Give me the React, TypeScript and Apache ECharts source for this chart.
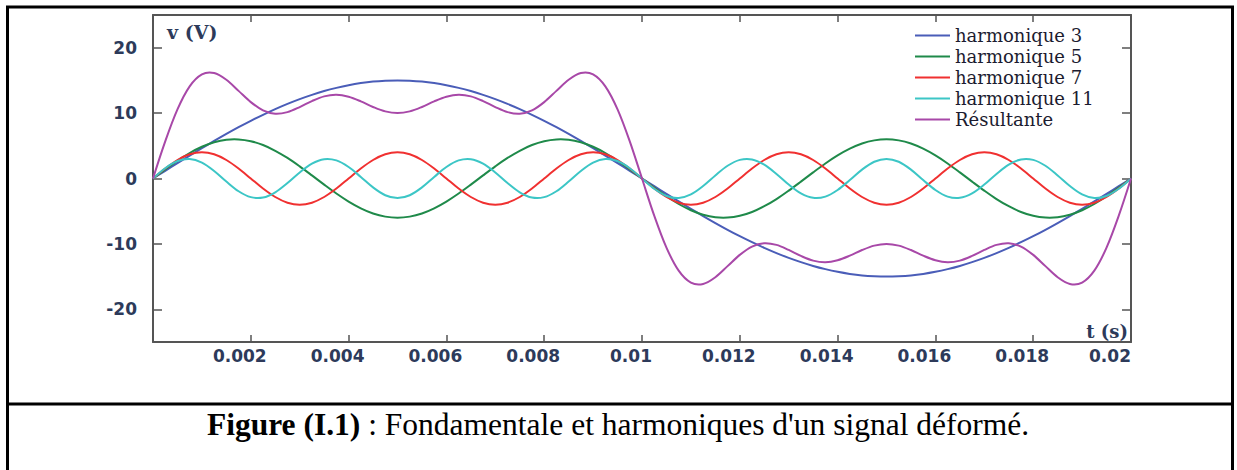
import React, { useEffect, useRef } from "react";
import * as echarts from "echarts";

const times = [
  0, 0.00025, 0.0005, 0.00075, 0.001, 0.00125, 0.0015, 0.00175, 0.002, 0.00225,
  0.0025, 0.00275, 0.003, 0.00325, 0.0035, 0.00375, 0.004, 0.00425, 0.0045, 0.00475,
  0.005, 0.00525, 0.0055, 0.00575, 0.006, 0.00625, 0.0065, 0.00675, 0.007, 0.00725,
  0.0075, 0.00775, 0.008, 0.00825, 0.0085, 0.00875, 0.009, 0.00925, 0.0095, 0.00975,
  0.01, 0.01025, 0.0105, 0.01075, 0.011, 0.01125, 0.0115, 0.01175, 0.012, 0.01225,
  0.0125, 0.01275, 0.013, 0.01325, 0.0135, 0.01375, 0.014, 0.01425, 0.0145, 0.01475,
  0.015, 0.01525, 0.0155, 0.01575, 0.016, 0.01625, 0.0165, 0.01675, 0.017, 0.01725,
  0.0175, 0.01775, 0.018, 0.01825, 0.0185, 0.01875, 0.019, 0.01925, 0.0195, 0.01975,
  0.02,
];

const harm3 = [
  0, 1.18, 2.35, 3.5, 4.64, 5.74, 6.81, 7.84, 8.82, 9.74, 10.61, 11.41, 12.14, 12.79, 13.37, 13.86, 14.27, 14.59, 14.82, 14.95, 15.0,
  14.95, 14.82, 14.59, 14.27, 13.86, 13.37, 12.79, 12.14, 11.41, 10.61, 9.74, 8.82, 7.84, 6.81, 5.74, 4.64, 3.5, 2.35, 1.18, 0,
  -1.18, -2.35, -3.5, -4.64, -5.74, -6.81, -7.84, -8.82, -9.74, -10.61, -11.41, -12.14, -12.79, -13.37, -13.86, -14.27, -14.59, -14.82, -14.95, -15.0,
  -14.95, -14.82, -14.59, -14.27, -13.86, -13.37, -12.79, -12.14, -11.41, -10.61, -9.74, -8.82, -7.84, -6.81, -5.74, -4.64, -3.5, -2.35, -1.18, 0,
];

const harm5 = [
  0, 1.4, 2.72, 3.9, 4.85, 5.54, 5.93, 5.98, 5.71, 5.12, 4.24, 3.14, 1.85, 0.47, -0.94, -2.3, -3.53, -4.56, -5.35, -5.83, -6.0,
  -5.83, -5.35, -4.56, -3.53, -2.3, -0.94, 0.47, 1.85, 3.14, 4.24, 5.12, 5.71, 5.98, 5.93, 5.54, 4.85, 3.9, 2.72, 1.4, 0,
  -1.4, -2.72, -3.9, -4.85, -5.54, -5.93, -5.98, -5.71, -5.12, -4.24, -3.14, -1.85, -0.47, 0.94, 2.3, 3.53, 4.56, 5.35, 5.83, 6.0,
  5.83, 5.35, 4.56, 3.53, 2.3, 0.94, -0.47, -1.85, -3.14, -4.24, -5.12, -5.71, -5.98, -5.93, -5.54, -4.85, -3.9, -2.72, -1.4, 0,
];

const harm7 = [
  0, 1.53, 2.83, 3.7, 4.0, 3.7, 2.83, 1.53, 0, -1.53, -2.83, -3.7, -4.0, -3.7, -2.83, -1.53, 0, 1.53, 2.83, 3.7, 4.0,
  3.7, 2.83, 1.53, 0, -1.53, -2.83, -3.7, -4.0, -3.7, -2.83, -1.53, 0, 1.53, 2.83, 3.7, 4.0, 3.7, 2.83, 1.53, 0,
  -1.53, -2.83, -3.7, -4.0, -3.7, -2.83, -1.53, 0, 1.53, 2.83, 3.7, 4.0, 3.7, 2.83, 1.53, 0, -1.53, -2.83, -3.7, -4.0,
  -3.7, -2.83, -1.53, 0, 1.53, 2.83, 3.7, 4.0, 3.7, 2.83, 1.53, 0, -1.53, -2.83, -3.7, -4.0, -3.7, -2.83, -1.53, 0,
];

const harm11 = [
  0, 1.57, 2.67, 2.99, 2.43, 1.15, -0.47, -1.95, -2.85, -2.92, -2.12, -0.7, 0.93, 2.28, 2.96, 2.77, 1.76, 0.24, -1.36, -2.56, -3.0,
  -2.56, -1.36, 0.24, 1.76, 2.77, 2.96, 2.28, 0.93, -0.7, -2.12, -2.92, -2.85, -1.95, -0.47, 1.15, 2.43, 2.99, 2.67, 1.57, 0,
  -1.57, -2.67, -2.99, -2.43, -1.15, 0.47, 1.95, 2.85, 2.92, 2.12, 0.7, -0.93, -2.28, -2.96, -2.77, -1.76, -0.24, 1.36, 2.56, 3.0,
  2.56, 1.36, -0.24, -1.76, -2.77, -2.96, -2.28, -0.93, 0.7, 2.12, 2.92, 2.85, 1.95, 0.47, -1.15, -2.43, -2.99, -2.67, -1.57, 0,
];

const resultante = [
  0, 5.68, 10.57, 14.09, 15.92, 16.13, 15.1, 13.4, 11.68, 10.41, 9.9, 10.15, 10.92, 11.84, 12.56, 12.8, 12.5, 11.8, 10.94, 10.26, 10.0,
  10.26, 10.94, 11.8, 12.5, 12.8, 12.56, 11.84, 10.92, 10.15, 9.9, 10.41, 11.68, 13.4, 15.1, 16.13, 15.92, 14.09, 10.57, 5.68, 0,
  -5.68, -10.57, -14.09, -15.92, -16.13, -15.1, -13.4, -11.68, -10.41, -9.9, -10.15, -10.92, -11.84, -12.56, -12.8, -12.5, -11.8, -10.94, -10.26, -10.0,
  -10.26, -10.94, -11.8, -12.5, -12.8, -12.56, -11.84, -10.92, -10.15, -9.9, -10.41, -11.68, -13.4, -15.1, -16.13, -15.92, -14.09, -10.57, -5.68, 0,
];

const seriesNames = ["harmonique 3", "harmonique 5", "harmonique 7", "harmonique 11", "Résultante"];
const seriesColors = ["#4a5db8", "#1f8a4a", "#f03030", "#3cc6c6", "#a848a8"];
const seriesValues = [harm3, harm5, harm7, harm11, resultante];
const yTickValues = [-20, -10, 0, 10, 20];

const axisColor = "#555555";
const labelColor = "#2d3a5a";

export default function App() {
  const ref = useRef<HTMLDivElement>(null);

  useEffect(() => {
    document.body.style.margin = "0";
    if (!ref.current) return;
    const chart = echarts.init(ref.current, null, { renderer: "svg" });

    const labelFont = {
      fontFamily: "DejaVu Sans",
      fontSize: 17,
      fontWeight: "bold" as const,
      color: labelColor,
    };

    chart.setOption({
      animation: false,
      backgroundColor: "#ffffff",
      grid: { left: 153, right: 106, top: 15, bottom: 128, containLabel: false },
      legend: {
        orient: "vertical",
        left: 910,
        top: 21,
        icon: "rect",
        itemWidth: 35,
        itemHeight: 2,
        itemGap: 2,
        data: seriesNames,
        textStyle: {
          fontFamily: "DejaVu Serif",
          fontSize: 18,
          lineHeight: 19,
          color: "#1c1c30",
        },
      },
      xAxis: [
        {
          type: "value",
          min: 0,
          max: 0.02,
          interval: 0.002,
          name: "t (s)",
          nameLocation: "end",
          nameGap: -3,
          nameTextStyle: {
            fontFamily: "DejaVu Serif",
            fontSize: 18,
            fontWeight: "bold",
            color: labelColor,
            align: "right",
            verticalAlign: "bottom",
            padding: [0, 0, 2, 0],
          },
          axisLine: { show: true, onZero: false, lineStyle: { color: axisColor, width: 2 } },
          axisTick: { show: true, inside: true, length: 7, lineStyle: { color: axisColor, width: 1.5 } },
          splitLine: { show: false },
          axisLabel: {
            ...labelFont,
            margin: 5,
            showMinLabel: true,
            showMaxLabel: true,
            formatter: (v: number) => {
              if (v === 0) return "";
              const s = String(parseFloat(v.toFixed(4)));
              return v >= 0.0199 ? "{e|" + s + "}" : "{n|" + s + "}";
            },
            rich: {
              n: { ...labelFont, padding: [0, 22, 0, 0] },
              e: { ...labelFont, padding: [0, 42, 0, 0] },
            },
          },
        },
        {
          type: "value",
          position: "top",
          min: 0,
          max: 0.02,
          interval: 0.002,
          axisLine: { show: true, onZero: false, lineStyle: { color: axisColor, width: 2 } },
          axisTick: { show: true, inside: true, length: 7, lineStyle: { color: axisColor, width: 1.5 } },
          axisLabel: { show: false },
          splitLine: { show: false },
        },
      ],
      yAxis: [
        {
          type: "value",
          min: -25,
          max: 25,
          name: "v (V)",
          nameLocation: "end",
          nameGap: -17,
          nameTextStyle: {
            fontFamily: "DejaVu Serif",
            fontSize: 19,
            fontWeight: "bold",
            color: labelColor,
            align: "left",
            verticalAlign: "middle",
            padding: [0, 0, 0, 14],
          },
          axisLine: { show: true, onZero: false, lineStyle: { color: axisColor, width: 2 } },
          axisTick: {
            show: true,
            inside: true,
            length: 9,
            customValues: yTickValues,
            lineStyle: { color: axisColor, width: 1.5 },
          },
          axisLabel: { ...labelFont, margin: 16, customValues: yTickValues },
          splitLine: { show: false },
        },
        {
          type: "value",
          position: "right",
          min: -25,
          max: 25,
          axisLine: { show: true, onZero: false, lineStyle: { color: axisColor, width: 2 } },
          axisTick: {
            show: true,
            inside: true,
            length: 9,
            customValues: yTickValues,
            lineStyle: { color: axisColor, width: 1.5 },
          },
          axisLabel: { show: false },
          splitLine: { show: false },
        },
      ],
      series: seriesNames.map((name, si) => ({
        name,
        type: "custom",
        xAxisIndex: 0,
        yAxisIndex: 0,
        itemStyle: { color: seriesColors[si] },
        encode: { x: 0, y: 1 },
        data: times.map((t, i) => [t, seriesValues[si][i]]),
        renderItem: (params: any, api: any) => {
          if (params.dataIndex !== 0) return { type: "group", children: [] };
          const pts = times.map((t, i) => api.coord([t, seriesValues[si][i]]));
          return {
            type: "polyline",
            shape: { points: pts, smooth: 0.33 },
            style: { stroke: seriesColors[si], lineWidth: 2, fill: "none" },
          };
        },
      })),
      graphic: [
        {
          type: "rect",
          shape: { x: 7.5, y: 7, width: 1225, height: 480 },
          style: { fill: "none", stroke: "#000000", lineWidth: 3 },
          silent: true,
        },
        {
          type: "line",
          shape: { x1: 7.5, y1: 404, x2: 1232.5, y2: 404 },
          style: { stroke: "#000000", lineWidth: 3 },
          silent: true,
        },
        {
          type: "text",
          x: 618,
          y: 424,
          silent: true,
          style: {
            text: "{b|Figure (I.1)} : Fondamentale et harmoniques d'un signal déformé.",
            fontFamily: "Liberation Serif",
            fontSize: 31.5,
            fill: "#000000",
            align: "center",
            verticalAlign: "middle",
            rich: {
              b: { fontFamily: "Liberation Serif", fontSize: 31.5, fontWeight: "bold", fill: "#000000" },
            },
          },
        },
      ],
    });

    return () => chart.dispose();
  }, []);

  return <div ref={ref} style={{ width: 1237, height: 470 }} />;
}
